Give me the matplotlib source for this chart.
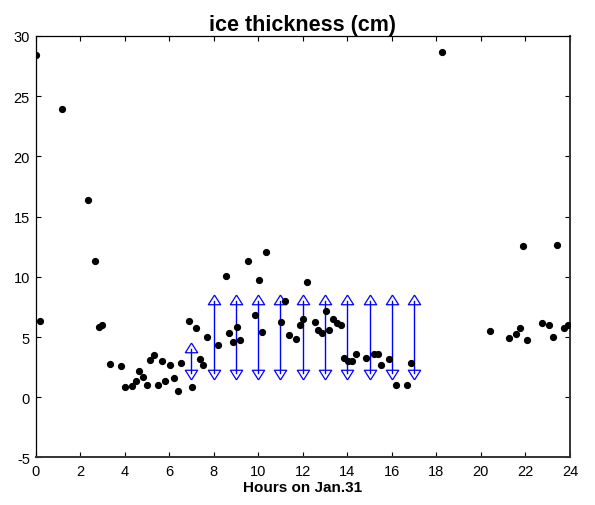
import numpy as np
import matplotlib
matplotlib.use("Agg")
from matplotlib import pyplot as plt

plt.rcParams['font.family'] = ['Liberation Sans', 'DejaVu Sans']
plt.rcParams['axes.unicode_minus'] = False

# measured ice thickness, hours on Jan.31
hours = [0.0, 0.18, 1.17, 2.34, 2.67, 2.83, 3.0, 3.33, 3.84, 4.0, 4.33, 4.49,
         4.66, 4.82, 4.99, 5.15, 5.33, 5.5, 5.66, 5.83, 6.05, 6.22, 6.38, 6.55,
         6.88, 7.04, 7.2, 7.37, 7.54, 7.7, 8.21, 8.54, 8.7, 8.87, 9.03, 9.2,
         9.53, 9.86, 10.02, 10.19, 10.35, 11.04, 11.2, 11.37, 11.7, 11.87, 12.03,
         12.2, 12.54, 12.7, 12.87, 13.03, 13.2, 13.36, 13.53, 13.7, 13.86, 14.02,
         14.19, 14.37, 14.86, 15.19, 15.36, 15.52, 15.87, 16.19, 16.69, 16.85,
         18.25, 20.42, 21.24, 21.57, 21.74, 21.91, 22.07, 22.74, 23.07, 23.24,
         23.4, 23.73, 23.9]
thickness = [28.4, 6.37, 23.9, 16.4, 11.3, 5.85, 5.96, 2.77, 2.58, 0.86, 0.94, 1.36,
             2.16, 1.69, 1.02, 3.1, 3.52, 1.02, 2.99, 1.36, 2.69, 1.58, 0.53, 2.88,
             6.37, 0.86, 5.74, 3.21, 2.69, 5.04, 4.32, 10.06, 5.35, 4.63, 5.85, 4.74,
             11.3, 6.87, 9.76, 5.46, 12.1, 6.26, 8.0, 5.15, 4.85, 5.96, 6.48,
             9.56, 6.26, 5.57, 5.35, 7.2, 5.57, 6.48, 6.18, 5.96, 3.3, 2.99,
             2.99, 3.6, 3.3, 3.6, 3.6, 2.69, 3.19, 1.05, 1.05, 2.88,
             28.7, 5.54, 4.93, 5.26, 5.74, 12.52, 4.74, 6.18, 5.98, 5.04,
             12.63, 5.74, 5.98]

# range bars (hourly)
range_hours = [7, 8, 9, 10, 11, 12, 13, 14, 15, 16, 17]
range_low = [2, 2, 2, 2, 2, 2, 2, 2, 2, 2, 2]
range_high = [4, 8, 8, 8, 8, 8, 8, 8, 8, 8, 8]

# MATLAB-like triangles, centred on the centroid
w, h = 6.15, 9.7
tri_up = [(0, 2 * h / 3), (-w, -h / 3), (w, -h / 3), (0, 2 * h / 3)]
tri_down = [(x, -y) for x, y in tri_up]
tri_ms = 2 * (2 * h / 3) / (100 / 72)

fig = plt.figure(figsize=(5.95, 5.06), dpi=100)
ax = fig.add_axes([0.0597, 0.0939, 0.8983, 0.833])

ax.plot(hours, thickness, 'o', color='black', markersize=4.2, zorder=3)

for xh, lo, hi in zip(range_hours, range_low, range_high):
    ax.plot([xh, xh], [lo, hi], color='blue', linewidth=1.0, zorder=2)
ax.plot(range_hours, range_high, linestyle='none', marker=tri_up, markersize=tri_ms,
        markerfacecolor='none', markeredgecolor='blue', markeredgewidth=0.9, zorder=2)
ax.plot(range_hours, range_low, linestyle='none', marker=tri_down, markersize=tri_ms,
        markerfacecolor='none', markeredgecolor='blue', markeredgewidth=0.9, zorder=2)

ax.set_xlim(0, 24)
ax.set_ylim(-5, 30)
ax.set_xticks(np.arange(0, 25, 2))
ax.set_yticks(np.arange(-5, 31, 5))
ax.tick_params(direction='in', length=3.5, width=0.8, top=True, right=True,
               labelsize=10.5)
ax.tick_params(axis='x', pad=5)
ax.tick_params(axis='y', pad=4)
for side in ['top', 'left']:
    ax.spines[side].set_linewidth(0.9)
for side in ['bottom', 'right']:
    ax.spines[side].set_linewidth(1.4)
    ax.spines[side].set_color('#333333')

ax.set_title("ice thickness (cm)", fontsize=15.5, fontweight='bold', pad=4)
ax.set_xlabel("Hours on Jan.31", fontsize=11, fontweight='bold', labelpad=1)

plt.savefig("out.png", dpi=100)
plt.close()
